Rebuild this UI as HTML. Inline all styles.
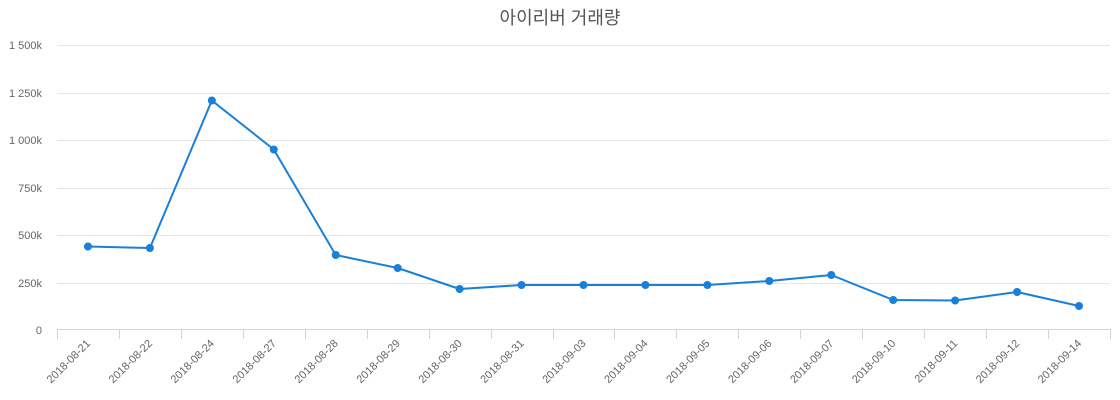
<!DOCTYPE html>
<html><head><meta charset="utf-8"><style>
html,body{margin:0;padding:0;background:#fff;width:1120px;height:400px;overflow:hidden}
svg{display:block;font-family:"Liberation Sans","Noto Sans CJK KR",sans-serif}
</style></head><body>
<svg width="1120" height="400" viewBox="0 0 1120 400">
<text x="560" y="24" text-anchor="middle" font-size="18" fill="#555">아이리버 거래량</text>
<g stroke="#e6e6e6" stroke-width="1">
<line x1="57" x2="1110" y1="45.5" y2="45.5"/>
<line x1="57" x2="1110" y1="93.5" y2="93.5"/>
<line x1="57" x2="1110" y1="140.5" y2="140.5"/>
<line x1="57" x2="1110" y1="188.5" y2="188.5"/>
<line x1="57" x2="1110" y1="235.5" y2="235.5"/>
<line x1="57" x2="1110" y1="283.5" y2="283.5"/>
</g>
<g font-size="11" fill="#666" text-anchor="end">
<text x="42" y="49">1 500k</text>
<text x="42" y="97">1 250k</text>
<text x="42" y="144">1 000k</text>
<text x="42" y="192">750k</text>
<text x="42" y="239">500k</text>
<text x="42" y="287">250k</text>
<text x="42" y="334">0</text>
</g>
<line x1="57" x2="1110" y1="329.5" y2="329.5" stroke="#ccd6eb"/>
<g stroke="#ccd6eb" id="ticks"></g>
<g id="labels" font-size="11" fill="#666" text-anchor="end"></g>
<polyline id="line" fill="none" stroke="#1a7fd8" stroke-width="2" stroke-linejoin="round"/>
<g id="pts" fill="#1a7fd8"></g>
</svg>
<script>
var d=["2018-08-21","2018-08-22","2018-08-24","2018-08-27","2018-08-28","2018-08-29","2018-08-30","2018-08-31","2018-09-03","2018-09-04","2018-09-05","2018-09-06","2018-09-07","2018-09-10","2018-09-11","2018-09-12","2018-09-14"];
var ys=[246.5,248,100.5,149.5,255,268,289,285,285,285,285,281,275,300,300.5,292,306];
var w=(1110-57)/17,ns="http://www.w3.org/2000/svg",pts=[];
var T=document.getElementById("ticks"),L=document.getElementById("labels"),P=document.getElementById("pts");
for(var i=0;i<=17;i++){var x=Math.round(57+i*w)+0.5;var l=document.createElementNS(ns,"line");l.setAttribute("x1",x);l.setAttribute("x2",x);l.setAttribute("y1",329);l.setAttribute("y2",339);T.appendChild(l);}
for(var i=0;i<17;i++){var x=57+w*(i+0.5);pts.push(x+","+ys[i]);
var c=document.createElementNS(ns,"circle");c.setAttribute("cx",x);c.setAttribute("cy",ys[i]);c.setAttribute("r",4);P.appendChild(c);
var t=document.createElementNS(ns,"text");t.setAttribute("transform","translate("+(x+3)+",344) rotate(-45)");t.textContent=d[i];L.appendChild(t);}
document.getElementById("line").setAttribute("points",pts.join(" "));
</script>
</body></html>
